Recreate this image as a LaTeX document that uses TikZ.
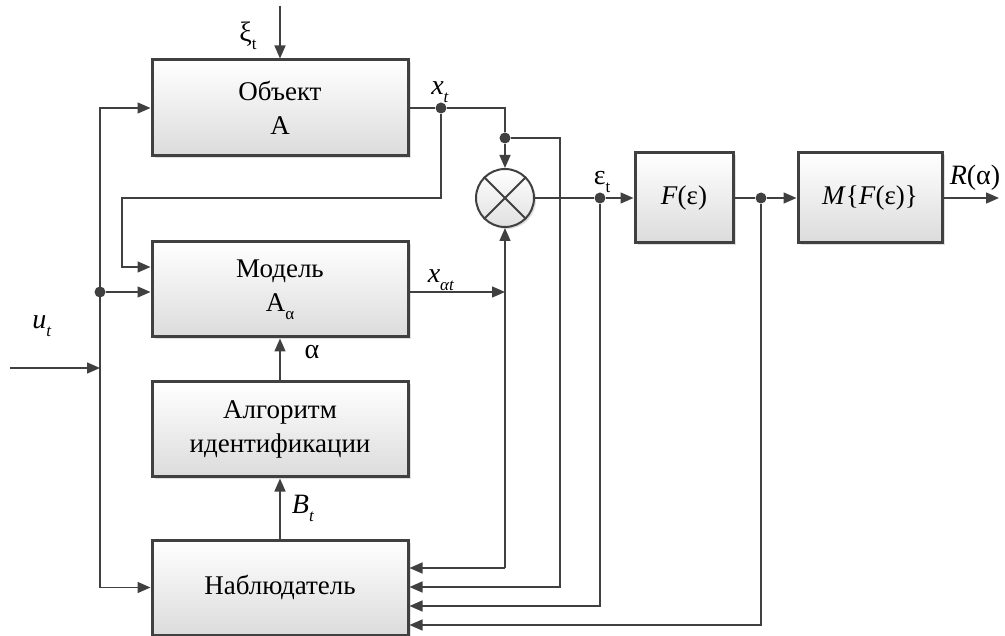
\documentclass[tikz,border=0pt]{standalone}
\usepackage{fontspec}
\setmainfont{Liberation Serif}
\usetikzlibrary{arrows.meta,shadows,calc}
\definecolor{lc}{HTML}{404040}
\newcommand{\dsub}[1]{\raisebox{-0.28em}{\fontsize{17}{17}\selectfont #1}}
\begin{document}
\begin{tikzpicture}[x=1pt,y=-1pt,
  blk/.style={draw=lc, line width=3pt, top color=white, bottom color=black!14,
    drop shadow={opacity=0.25, shadow xshift=2.5pt, shadow yshift=-2.5pt},
    minimum width=256pt, align=center, inner sep=0pt,
    font=\fontsize{27}{34}\selectfont},
  mult/.style={circle, draw=lc, line width=2pt, minimum size=58pt, inner sep=0pt,
    top color=white, bottom color=black!12,
    drop shadow={opacity=0.25, shadow xshift=2pt, shadow yshift=-2pt}},
  dot/.style={circle, fill=lc, minimum size=11pt, inner sep=0pt},
  ln/.style={draw=lc, line width=1.5pt},
  arr/.style={ln, -{Triangle[length=13pt,width=11pt]}},
  lbl/.style={font=\fontsize{28}{28}\selectfont, inner sep=0pt}
]
\useasboundingbox (0,0) rectangle (1005,636);

% blocks
\node[blk, minimum height=96pt] (obj) at (280,108) {Объект\\A};
\node[blk, minimum height=95pt] (model) at (280,289.5) {Модель\\A\dsub{α}};
\node[blk, minimum height=95pt] (alg) at (280,429.5) {Алгоритм\\идентификации};
\node[blk, minimum height=95pt] (obs) at (280,587.5) {Наблюдатель};
\node[blk, minimum width=98pt, minimum height=90pt] (F) at (684,198) {\textit{F}(ε)};
\node[blk, minimum width=144pt, minimum height=90pt] (M) at (870,198) {\textit{M}\{\textit{F}(ε)\}};
\node[mult] (circ) at (505,198) {};
\draw[lc, line width=2pt] (circ.45) -- (circ.225) (circ.135) -- (circ.315);

% junction dots
\node[dot] (d1) at (441,108) {};
\node[dot] (d2) at (505,138) {};
\node[dot] (d3) at (600,198) {};
\node[dot] (d4) at (761,198) {};
\node[dot] (d0) at (100,292) {};

% helper coordinates
\coordinate (xi) at (280,6);
\coordinate (k1) at (122,198);
\coordinate (k2) at (560,587);
\coordinate (k3) at (505,568);
\coordinate (k4) at (600,606);
\coordinate (k5) at (761,625);
\coordinate (u0) at (10,368);
\coordinate (u1) at (100,368);
\coordinate (out) at (999,198);

% connectors
\draw[arr] (xi) -- (obj.north);
\draw[ln] (obj.east) -- (d1);
\draw[ln] (d1) -| (d2);
\draw[arr] (d2) -- (circ.north);
\draw[arr] (d1) |- (k1) |- ([yshift=22.5pt]model.west);
\draw[arr] (d2) -| (k2) -- (k2 -| obs.east);
\draw[arr] (u0) -- (u1);
\draw[arr] (u1) |- (obj.west);
\draw[arr] (u1) |- (obs.west);
\draw[arr] (d0) -- (d0 -| model.west);
\draw[arr] (d0 -| model.east) -- (d0 -| k3);
\draw[arr] (k3) -- (circ.south);
\draw[arr] (k3) -- (k3 -| obs.east);
\draw[arr] (d3) -- (k4) -- (k4 -| obs.east);
\draw[arr] (d4) -- (k5) -- (k5 -| obs.east);
\draw[ln] (circ.east) -- (d3);
\draw[arr] (d3) -- (F.west);
\draw[ln] (F.east) -- (d4);
\draw[arr] (d4) -- (M.west);
\draw[arr] (M.east) -- (out);
\draw[arr] (alg.north) -- (model.south);
\draw[arr] (obs.north) -- (alg.south);

% labels
\node[lbl] (lxi) at (248,36) {ξ\dsub{t}};
\node[lbl] (lxt) at (440,92) {\textit{x}\dsub{\textit{t}}};
\node[lbl] (lxat) at (441,280) {\textit{x}\dsub{\textit{αt}}};
\node[lbl] (leps) at (602,182) {ε\dsub{t}};
\node[lbl] (lu) at (42,326) {\textit{u}\dsub{\textit{t}}};
\node[lbl] (lal) at (312,352) {α};
\node[lbl] (lB) at (303,508) {\textit{B}\dsub{\textit{t}}};
\node[lbl] (lR) at (975,178) {\textit{R}(α)};
\end{tikzpicture}
\end{document}
